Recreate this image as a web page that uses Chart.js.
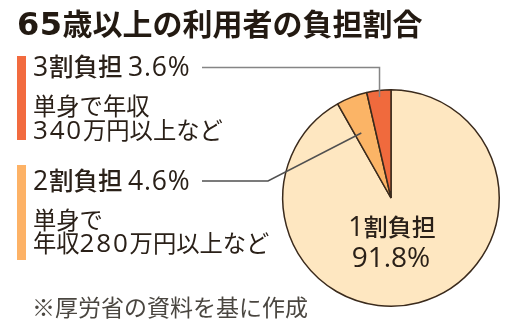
<!DOCTYPE html>
<html lang="ja">
<head>
<meta charset="utf-8">
<script src="https://cdn.jsdelivr.net/npm/chart.js@4"></script>
<style>
  html, body { margin: 0; padding: 0; background: #fff; }
  #wrap { position: relative; width: 519px; height: 329px; overflow: hidden;
          font-family: "Noto Sans CJK JP", "Noto Sans", sans-serif; color: #2a2018; }
  #chart { position: absolute; left: 0; top: 0; }
  .t { position: absolute; white-space: nowrap; line-height: 1; }
  .num { font-family: "Open Sans", sans-serif; }
  #title { left: 17px; top: 7px; font-size: 30px; font-weight: 700; color: #231a12; }
  #title .num { font-family: "DejaVu Sans", sans-serif; font-size: 32px; letter-spacing: 0.5px; }
  .head { font-size: 24.5px; font-weight: 500; }
  .head .num { font-size: 26.5px; font-weight: 500; letter-spacing: 0.8px; }
  .sub { font-size: 23.3px; font-weight: 400; }
  .sub .num { font-size: 26px; letter-spacing: 1.8px; }
  #note { left: 32px; top: 295px; font-size: 23px; color: #4a4640; }
  .bar { position: absolute; left: 17px; width: 9px; }
</style>
</head>
<body>
<div id="wrap">
  <canvas id="chart" width="519" height="329"></canvas>
  <div class="t" id="title">65歳以上の利用者の負担割合</div>

  <div class="bar" style="top:56px;height:84px;background:#f26b3f"></div>
  <div class="t head" id="h3" style="left:33px;top:53px"></div>
  <div class="t sub" style="left:33px;top:94px">単身で年収</div>
  <div class="t sub" style="left:33px;top:116px">340万円以上など</div>

  <div class="bar" style="top:165px;height:95px;background:#fdb266"></div>
  <div class="t head" id="h2" style="left:33px;top:167px"></div>
  <div class="t sub" style="left:33px;top:208px">単身で</div>
  <div class="t sub" style="left:33px;top:229px">年収280万円以上など</div>

  <div class="t" id="note">※厚労省の資料を基に作成</div>
</div>
<script>
// Share of users aged 65+ by co-payment rate (clockwise from the top)
const categories = ['1割負担', '2割負担', '3割負担'];
const shares = [91.8, 4.6, 3.6];
const sliceColors = ['#fee7c1', '#fbb466', '#f06a3d'];

const NUM_RUN = /([0-9.%]+)/;

// Latin digits get a wider face than the CJK font's own
function setMixed(el, text) {
  el.textContent = '';
  text.split(NUM_RUN).forEach(part => {
    if (!part) return;
    if (NUM_RUN.test(part)) {
      const s = document.createElement('span');
      s.className = 'num';
      s.textContent = part;
      el.appendChild(s);
    } else {
      el.appendChild(document.createTextNode(part));
    }
  });
}

document.getElementById('h3').textContent = categories[2] + ' ' + shares[2].toFixed(1) + '%';
document.getElementById('h2').textContent = categories[1] + ' ' + shares[1].toFixed(1) + '%';
document.querySelectorAll('.t').forEach(el => setMixed(el, el.textContent));

// Same mixed-font treatment on the canvas, centred on cx
function fillMixed(ctx, text, cx, y, size, numSize, weight) {
  const runs = text.split(NUM_RUN).filter(Boolean).map(part => {
    const isNum = NUM_RUN.test(part);
    return {
      part,
      font: isNum ? `${weight} ${numSize}px "Open Sans", sans-serif`
                  : `${weight} ${size}px "Noto Sans CJK JP", sans-serif`
    };
  });
  let total = 0;
  runs.forEach(r => {
    ctx.font = r.font;
    r.w = ctx.measureText(r.part).width;
    total += r.w;
  });
  let x = cx - total / 2;
  ctx.textAlign = 'left';
  runs.forEach(r => {
    ctx.font = r.font;
    ctx.fillText(r.part, x, y);
    x += r.w;
  });
}

// Leader lines from the side labels to their slices, plus the label inside the big slice
const callouts = {
  id: 'callouts',
  afterDatasetsDraw(chart) {
    const ctx = chart.ctx;
    const arcs = chart.getDatasetMeta(0).data;
    const pointOn = (arc, frac, rFrac) => {
      const a = arc.startAngle + (arc.endAngle - arc.startAngle) * frac;
      const r = arc.outerRadius * rFrac;
      return { x: arc.x + Math.cos(a) * r, y: arc.y + Math.sin(a) * r };
    };
    ctx.save();
    ctx.lineWidth = 1.5;

    // 3割: horizontal, then straight down into the slice
    const p3 = pointOn(arcs[2], 0.5, 0.94);
    ctx.strokeStyle = '#858585';
    ctx.beginPath();
    ctx.moveTo(202, 67.5);
    ctx.lineTo(p3.x, 67.5);
    ctx.lineTo(p3.x, p3.y);
    ctx.stroke();

    // 2割: horizontal, then angled up into the slice
    const p2 = pointOn(arcs[1], 0.3, 0.66);
    ctx.strokeStyle = '#505050';
    ctx.beginPath();
    ctx.moveTo(202, 181);
    ctx.lineTo(268, 181);
    ctx.lineTo(p2.x, p2.y);
    ctx.stroke();

    // 1割 label in the lower part of the big slice
    const c = arcs[0];
    ctx.fillStyle = '#2a2018';
    ctx.textBaseline = 'alphabetic';
    fillMixed(ctx, categories[0], c.x + 1, c.y + 38, 24, 27, 500);
    fillMixed(ctx, shares[0].toFixed(1) + '%', c.x, c.y + 69, 24, 28, 500);
    ctx.restore();
  }
};

new Chart(document.getElementById('chart'), {
  type: 'pie',
  data: {
    labels: categories,
    datasets: [{
      data: shares,
      backgroundColor: sliceColors,
      borderColor: '#3a2a1c',
      borderWidth: 1.5,
      hoverOffset: 0
    }]
  },
  options: {
    responsive: false,
    animation: false,
    events: [],
    layout: { padding: { left: 282, top: 89, right: 19, bottom: 22 } },
    plugins: { legend: { display: false }, tooltip: { enabled: false } }
  },
  plugins: [callouts]
});
</script>
</body>
</html>
